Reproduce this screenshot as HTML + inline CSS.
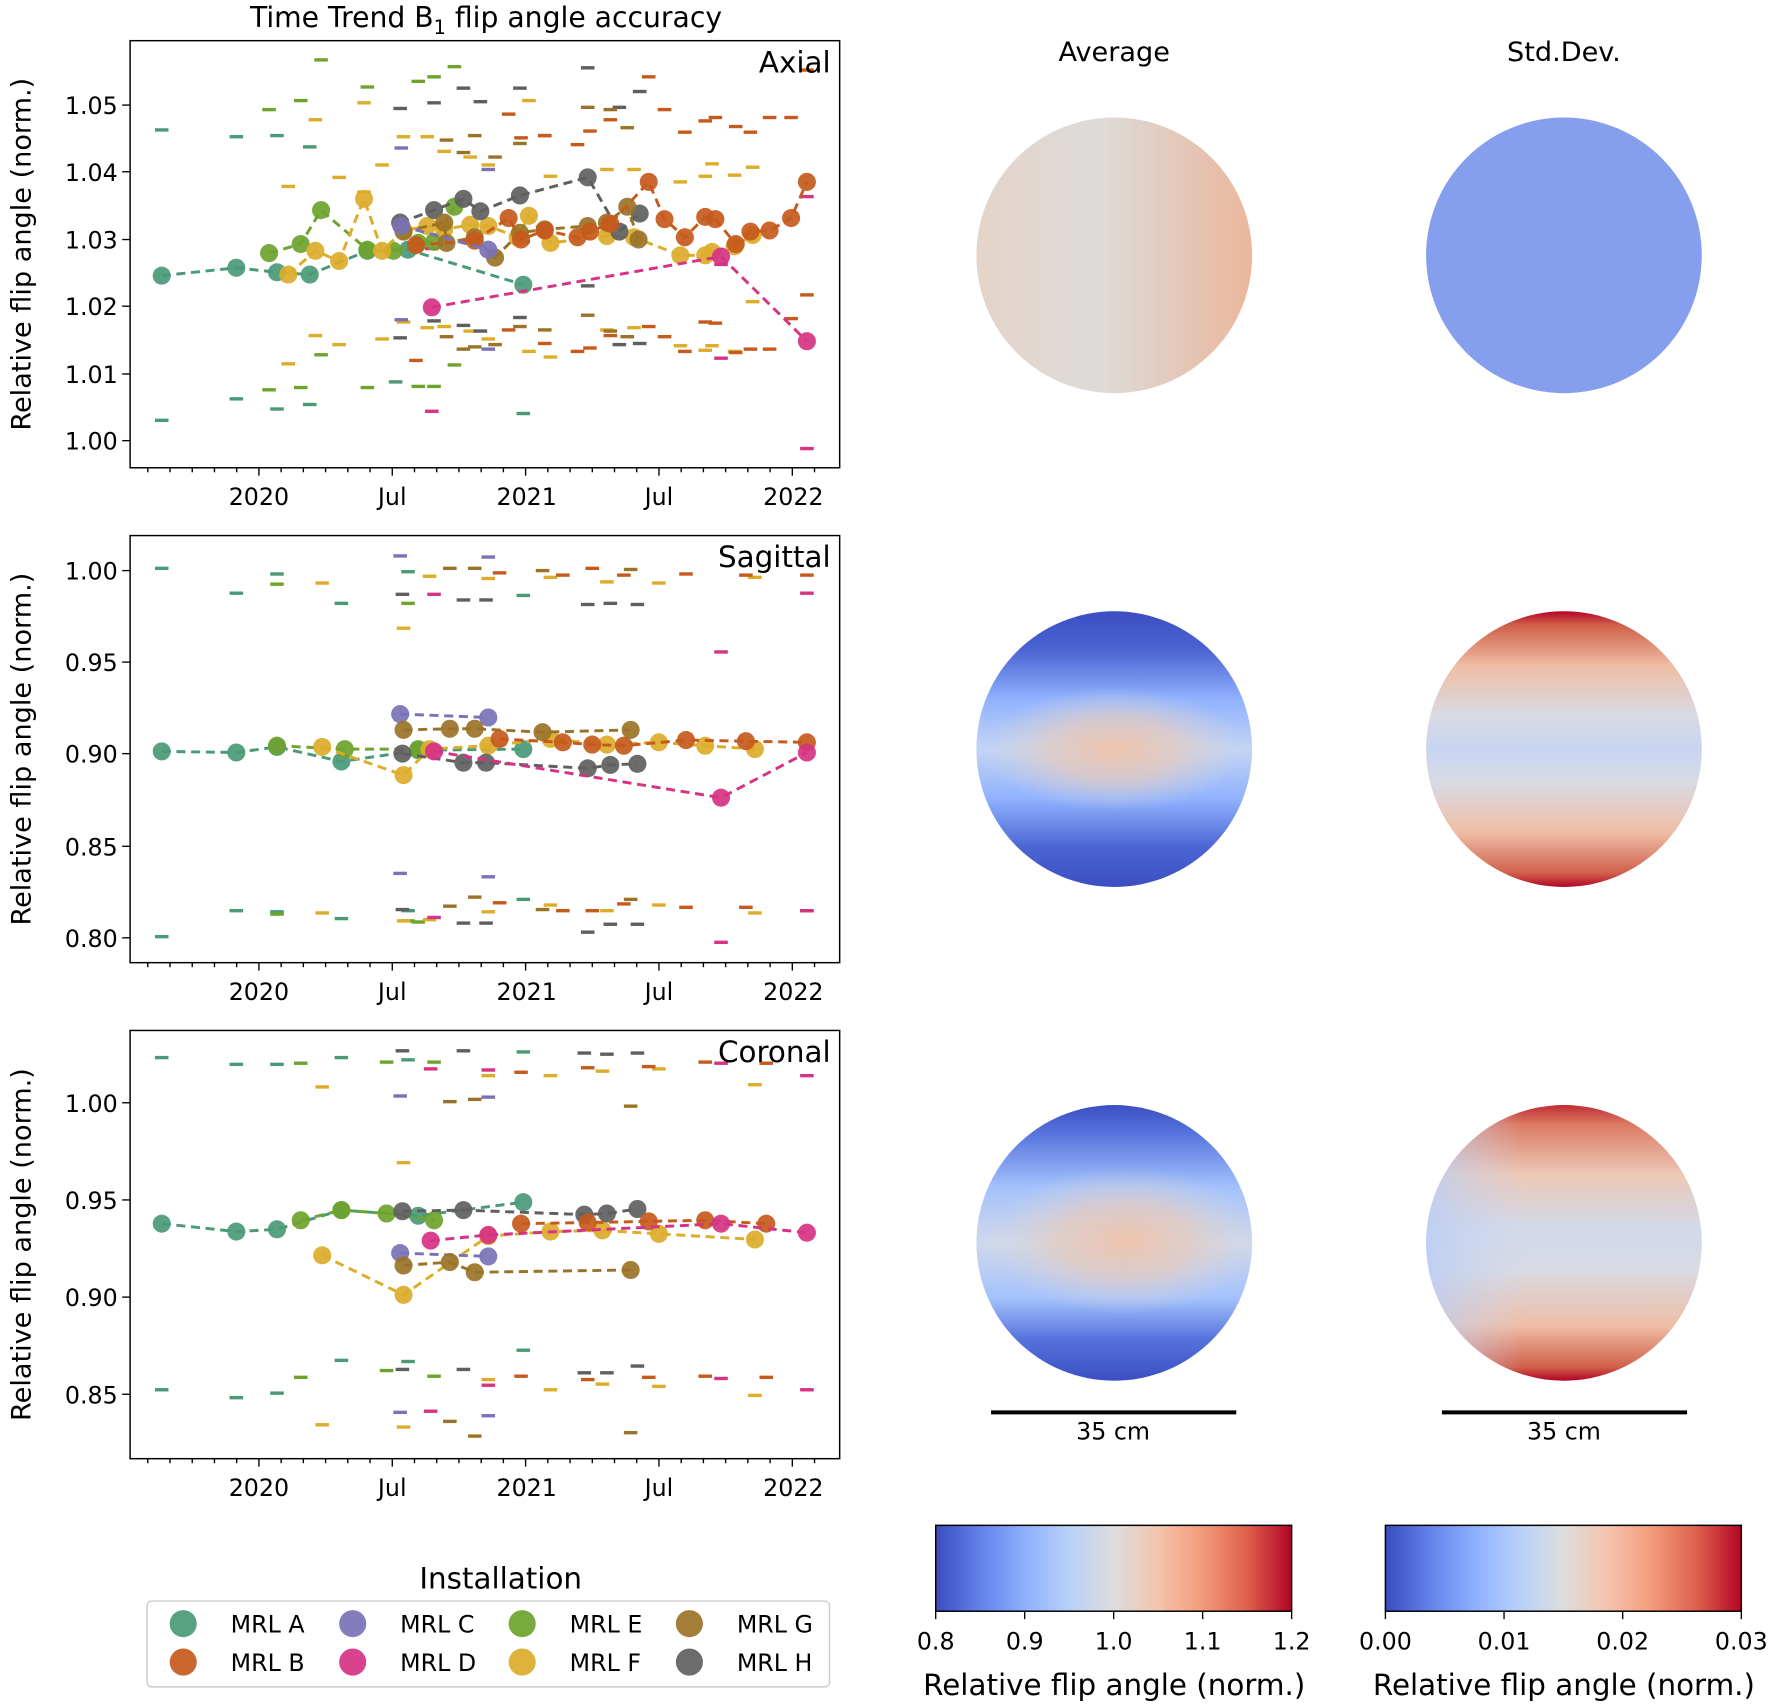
<!DOCTYPE html>
<html><head><meta charset="utf-8">
<style>html,body{margin:0;padding:0;background:#fff}svg{display:block}</style></head>
<body>
<svg id="s" xmlns="http://www.w3.org/2000/svg" width="1772" height="1705" viewBox="0 0 1568 1509" font-family="'DejaVu Sans','Liberation Sans',sans-serif">
<defs>
<linearGradient id="cw" x1="0" x2="1" y1="0" y2="0">
<stop offset="0" stop-color="#3b4cc0"/><stop offset="0.125" stop-color="#6282ea"/><stop offset="0.25" stop-color="#8db0fe"/><stop offset="0.375" stop-color="#b8d0f9"/><stop offset="0.5" stop-color="#dddddd"/><stop offset="0.625" stop-color="#f5c4ad"/><stop offset="0.75" stop-color="#f49a7b"/><stop offset="0.875" stop-color="#de604d"/><stop offset="1" stop-color="#b40426"/></linearGradient>
<linearGradient id="axA" x1="0" x2="1" y1="0" y2="0"><stop offset="0" stop-color="#e4d4c9"/><stop offset="0.45" stop-color="#dddbd9"/><stop offset="1" stop-color="#ebb69c"/></linearGradient>
<linearGradient id="sgA" x1="0" x2="0" y1="0" y2="1"><stop offset="0" stop-color="#3c4ec2"/><stop offset="0.14" stop-color="#4b64d2"/><stop offset="0.32" stop-color="#90b2fe"/><stop offset="0.5" stop-color="#c4d4f3"/><stop offset="0.68" stop-color="#90b2fe"/><stop offset="0.86" stop-color="#4b64d2"/><stop offset="1" stop-color="#3c4ec2"/></linearGradient>
<linearGradient id="coA" x1="0" x2="0" y1="0" y2="1"><stop offset="0" stop-color="#3c4ec2"/><stop offset="0.1" stop-color="#5573dc"/><stop offset="0.3" stop-color="#a4c2fc"/><stop offset="0.5" stop-color="#d0d8ea"/><stop offset="0.7" stop-color="#a4c2fc"/><stop offset="0.85" stop-color="#5573dc"/><stop offset="1" stop-color="#3c4ec2"/></linearGradient>
<radialGradient id="pe" cx="0.5" cy="0.5" r="0.5"><stop offset="0" stop-color="#eec3ac" stop-opacity="1"/><stop offset="0.5" stop-color="#e6cbbd" stop-opacity="0.7"/><stop offset="1" stop-color="#d8d8e0" stop-opacity="0"/></radialGradient>
<linearGradient id="sgS" x1="0" x2="0" y1="0" y2="1"><stop offset="0" stop-color="#b40426"/><stop offset="0.05" stop-color="#d0604a"/><stop offset="0.2" stop-color="#efbea6"/><stop offset="0.38" stop-color="#d8dae4"/><stop offset="0.5" stop-color="#c8d5f2"/><stop offset="0.62" stop-color="#d8dae4"/><stop offset="0.8" stop-color="#efbea6"/><stop offset="0.95" stop-color="#d0604a"/><stop offset="1" stop-color="#b40426"/></linearGradient>
<linearGradient id="coS" x1="0" x2="0" y1="0" y2="1"><stop offset="0" stop-color="#c02c34"/><stop offset="0.07" stop-color="#dc7a62"/><stop offset="0.25" stop-color="#ecc8b6"/><stop offset="0.45" stop-color="#d2d9ea"/><stop offset="0.6" stop-color="#d8dae4"/><stop offset="0.8" stop-color="#efbea6"/><stop offset="0.95" stop-color="#d0604a"/><stop offset="1" stop-color="#b40426"/></linearGradient>
<linearGradient id="lb" x1="0" x2="1" y1="0" y2="0"><stop offset="0" stop-color="#b8cdf6" stop-opacity="0.8"/><stop offset="0.35" stop-color="#c8d5f2" stop-opacity="0"/></linearGradient>
</defs>
<g id="root"></g>
</svg>
<script>
const NS="http://www.w3.org/2000/svg",R=document.getElementById('root');
function el(t,a,txt){const e=document.createElementNS(NS,t);for(const k in a)e.setAttribute(k,a[k]);if(txt!==undefined)e.textContent=txt;R.appendChild(e);return e;}
const C={A:'#4a9a78',B:'#c65a1c',C:'#7a72b5',D:'#d63384',E:'#6ea32e',F:'#dcac2a',G:'#9a7328',H:'#5f5f5f'};
function txt(x,y,s,size,anchor,extra){return el('text',Object.assign({x:x,y:y,'font-size':size,'text-anchor':anchor||'middle',fill:'#000'},extra||{}),s);}
function panel(y0,y1,yt,name,lines,dashes){
  el('rect',{x:115,y:y0,width:628,height:y1-y0,fill:'none',stroke:'#000','stroke-width':1.3});
  for(let m=-7;m<=25;m++){const x=229+m*19.67;if(x<120||x>740)continue;const major=(m%6==0);el('line',{x1:x,x2:x,y1:y1,y2:y1+(major?7:4),stroke:'#000','stroke-width':1.2});}
  [['2020',229],['Jul',347],['2021',466],['Jul',583],['2022',702]].forEach(a=>txt(a[1],y1+33,a[0],21));
  yt.forEach(a=>{el('line',{x1:108,x2:115,y1:a[1],y2:a[1],stroke:'#000','stroke-width':1.2});txt(104,a[1]+8,a[0],21,'end');});
  txt(0,0,'Relative flip angle (norm.)',24,'middle',{transform:`translate(27,${(y0+y1)/2}) rotate(-90)`});
  for(const k in dashes){dashes[k].forEach(p=>el('line',{x1:p[0]-6,x2:p[0]+6,y1:p[1],y2:p[1],stroke:C[k],'stroke-width':3}));}
  for(const k in lines){const pts=lines[k];el('polyline',{points:pts.map(p=>p.join(',')).join(' '),fill:'none',stroke:C[k],'stroke-width':2.6,'stroke-dasharray':'8,5'});
    pts.forEach(p=>el('circle',{cx:p[0],cy:p[1],r:8,fill:C[k],'fill-opacity':0.92}));}
  txt(735,y0+28,name,26,'end');
}
function pairs(a){const r=[];for(let i=0;i<a.length;i+=2)r.push([a[i],a[i+1]]);return r;}
const tt=el('text',{x:430,y:24,'font-size':25,'text-anchor':'middle'});
tt.innerHTML='Time Trend B<tspan font-size="17" dy="6">1</tspan><tspan dy="-6"> flip angle accuracy</tspan>';
panel(36,414,[['1.00',390],['1.01',331],['1.02',271],['1.03',212],['1.04',152],['1.05',93]],'Axial',
{A:[[143,244],[209,237],[245,241],[274,243],[325,222],[361,221],[463,252]],
E:[[238,224],[266,216],[284,186],[325,221],[348,222],[370,215],[384,214],[402,183]],
F:[[255,243],[279,222],[300,231],[322,176],[338,222],[357,204],[378,200],[393,203],[416,199],[432,200],[458,210],[468,191],[487,215],[537,209],[561,210],[602,226],[624,226],[630,223],[650,218],[666,208]],
H:[[354,197],[384,186],[410,176],[425,187],[460,173],[520,157],[548,205],[566,189]],
G:[[357,205],[393,197],[395,215],[420,210],[438,228],[460,206],[482,203],[520,200],[537,197],[555,183],[565,212]],
B:[[368,217],[420,213],[450,193],[461,212],[482,204],[511,210],[522,205],[540,198],[574,161],[588,194],[606,210],[624,192],[633,194],[651,216],[664,205],[681,204],[700,193],[714,161]],
C:[[355,200],[432,221]],
D:[[382,272],[638,227],[714,302]]},
{A:pairs([143,115,143,372,209,121,209,353,245,120,245,362,274,130,274,358,355,204,350,338,463,214,463,366]),
E:pairs([238,97,238,345,266,89,266,343,284,53,284,314,325,77,325,343,370,72,370,342,384,68,384,342,402,59,402,323]),
F:pairs([255,165,255,322,279,106,279,297,300,157,300,305,322,91,322,170,338,146,338,300,357,121,357,285,378,121,378,290,393,134,393,289,416,139,416,293,432,146,432,300,468,89,468,311,487,156,487,316,537,150,537,292,561,150,561,290,602,161,602,306,624,156,624,310,630,145,630,306,650,155,650,311,666,148,666,267]),
H:pairs([354,96,354,299,384,91,384,284,410,78,410,288,425,90,425,293,460,78,460,281,520,60,520,253,548,95,548,305,566,81,566,304]),
G:pairs([395,124,395,298,410,135,410,309,420,120,420,307,438,139,438,305,460,127,460,289,482,120,482,292,520,95,520,279,540,97,540,293,555,113,555,298]),
B:pairs([368,319,450,101,450,292,461,122,482,120,482,304,511,128,511,311,522,116,522,308,540,106,540,297,574,68,574,289,588,97,588,298,606,117,606,311,624,107,624,285,633,104,633,286,651,112,651,312,664,117,664,309,681,104,681,309,700,104,700,282,714,62,714,261]),
C:pairs([355,131,355,283,432,150,432,309]),
D:pairs([382,220,382,364,638,234,638,317,714,174,714,397])});
panel(474,852,[['0.80',830],['0.85',749],['0.90',667],['0.95',586],['1.00',505]],'Sagittal',
{A:[[143,665],[209,666],[245,661],[302,674],[370,664],[463,663]],
E:[[245,660],[305,663],[370,663]],
F:[[285,661],[357,686],[380,663],[432,660],[487,654],[537,659],[583,657],[624,660],[668,663]],
C:[[354,632],[432,635]],
G:[[357,646],[398,645],[420,645],[480,648],[558,646]],
H:[[356,667],[410,675],[430,675],[520,680],[540,677],[564,676]],
B:[[442,654],[498,657],[524,659],[552,660],[607,655],[660,656],[714,657]],
D:[[384,665],[638,706],[714,666]]},
{A:pairs([143,503,209,525,245,508,302,534,361,506,463,527,143,829,209,806,245,807,302,813,361,806,463,796]),
E:pairs([245,517,361,534,245,809,361,815,370,816]),
F:pairs([285,516,357,556,380,510,432,512,487,511,537,515,583,516,668,511,285,808,357,815,380,814,432,807,487,801,537,806,583,801,668,808]),
C:pairs([354,492,432,493,354,773,432,776]),
G:pairs([398,503,420,503,480,505,558,504,398,802,420,794,480,805,558,796]),
H:pairs([356,526,410,531,430,531,520,535,540,534,564,535,356,805,410,817,430,817,520,825,540,818,564,818]),
B:pairs([442,507,498,509,524,503,552,509,607,508,660,509,714,509,442,799,498,806,524,806,552,800,607,803,660,803,714,806]),
D:pairs([384,526,638,577,714,525,384,812,638,834,714,806])});
panel(912,1291,[['0.85',1234],['0.90',1148],['0.95',1062],['1.00',976]],'Coronal',
{A:[[143,1083],[209,1090],[245,1088],[302,1071],[370,1076],[463,1064]],
E:[[266,1080],[302,1071],[342,1074],[384,1080]],
F:[[285,1111],[357,1146],[432,1094],[487,1090],[533,1089],[583,1092],[668,1097]],
C:[[354,1109],[432,1112]],
G:[[357,1120],[398,1117],[420,1126],[558,1124]],
H:[[356,1072],[410,1071],[517,1075],[537,1074],[564,1070]],
B:[[461,1083],[520,1082],[574,1081],[624,1080],[678,1083]],
D:[[381,1098],[432,1093],[638,1083],[714,1091]]},
{A:pairs([143,936,209,942,245,942,302,936,361,938,463,931,143,1230,209,1237,245,1233,302,1204,361,1205,463,1195]),
E:pairs([266,941,342,940,384,940,266,1219,342,1213,384,1218]),
F:pairs([285,962,357,1029,432,952,487,952,533,948,583,946,668,960,285,1261,357,1263,432,1221,487,1230,533,1225,583,1227,668,1235]),
C:pairs([354,970,432,971,354,1250,432,1253]),
G:pairs([398,975,420,973,558,979,398,1258,420,1271,558,1268]),
H:pairs([356,930,410,930,517,932,537,933,564,932,356,1212,410,1212,517,1215,537,1215,564,1209]),
B:pairs([461,949,520,945,574,944,624,940,678,941,461,1218,520,1221,574,1219,624,1218,678,1219]),
D:pairs([381,946,432,947,638,941,714,952,381,1249,432,1226,638,1220,714,1230])});
txt(986,54,'Average',24);txt(1384,54,'Std.Dev.',24);
el('circle',{cx:986,cy:226,r:122,fill:'url(#axA)'});
el('circle',{cx:1384,cy:226,r:122,fill:'#859fee'});
el('circle',{cx:986,cy:663,r:122,fill:'url(#sgA)'});
el('ellipse',{cx:986,cy:663,rx:115,ry:55,fill:'url(#pe)'});
el('circle',{cx:1384,cy:663,r:122,fill:'url(#sgS)'});
el('circle',{cx:986,cy:1100,r:122,fill:'url(#coA)'});
el('ellipse',{cx:995,cy:1098,rx:120,ry:65,fill:'url(#pe)'});
el('circle',{cx:1384,cy:1100,r:122,fill:'url(#coS)'});
el('circle',{cx:1384,cy:1100,r:122,fill:'url(#lb)'});
el('line',{x1:877,x2:1094,y1:1250,y2:1250,stroke:'#000','stroke-width':3.5});txt(985,1274,'35 cm',21);
el('line',{x1:1276,x2:1493,y1:1250,y2:1250,stroke:'#000','stroke-width':3.5});txt(1384,1274,'35 cm',21);
function cbar(x0,labels){el('rect',{x:x0,y:1350,width:315,height:76,fill:'url(#cw)',stroke:'#000','stroke-width':1.3});
 labels.forEach((l,i)=>{const x=x0+i*315/(labels.length-1);el('line',{x1:x,x2:x,y1:1426,y2:1433,stroke:'#000','stroke-width':1.2});txt(x,1460,l,21);});
 txt(x0+158,1500,'Relative flip angle (norm.)',26);}
cbar(828,['0.8','0.9','1.0','1.1','1.2']);
cbar(1226,['0.00','0.01','0.02','0.03']);
txt(443,1406,'Installation',26);
el('rect',{x:130,y:1417,width:604,height:76,rx:4,fill:'#fff',stroke:'#ccc','stroke-width':1.3});
[['A',162,1437],['B',162,1471],['C',312,1437],['D',312,1471],['E',462,1437],['F',462,1471],['G',610,1437],['H',610,1471]].forEach(a=>{
 el('circle',{cx:a[1],cy:a[2],r:12,fill:C[a[0]],'fill-opacity':0.92});txt(a[1]+42,a[2]+8,'MRL '+a[0],21,'start');});
</script>
</body></html>
